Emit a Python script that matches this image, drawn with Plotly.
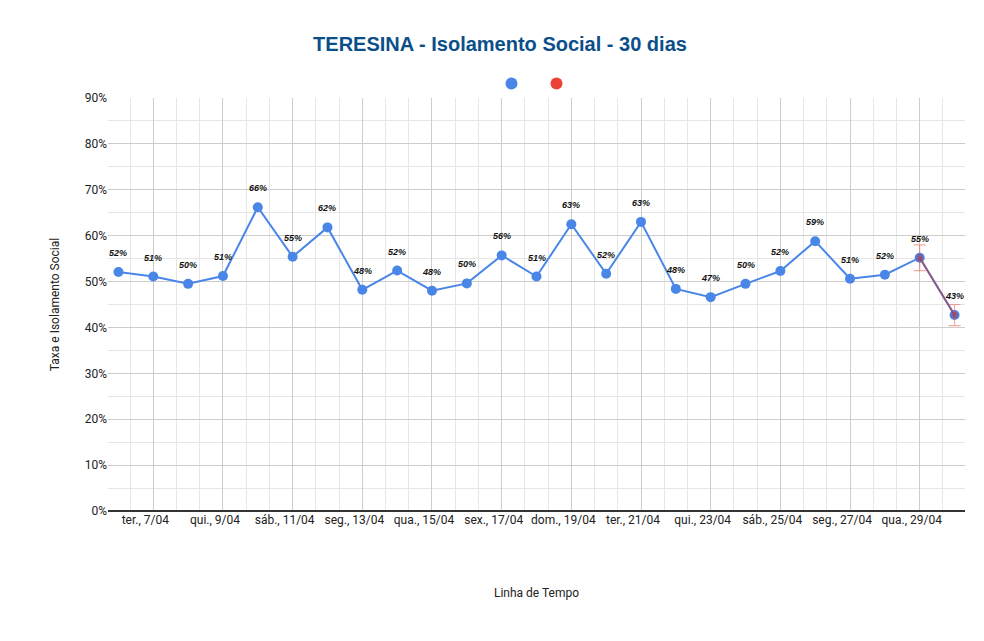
import plotly.graph_objects as go

days = ["seg., 6/04","ter., 7/04","qua., 8/04","qui., 9/04","sex., 10/04","sáb., 11/04","dom., 12/04","seg., 13/04","ter., 14/04","qua., 15/04","qui., 16/04","sex., 17/04","sáb., 18/04","dom., 19/04","seg., 20/04","ter., 21/04","qua., 22/04","qui., 23/04","sex., 24/04","sáb., 25/04","dom., 26/04","seg., 27/04","ter., 28/04","qua., 29/04","qui., 30/04"]
taxa = [52.1,51.1,49.5,51.2,66.2,55.4,61.8,48.2,52.4,48.0,49.6,55.7,51.1,62.5,51.7,63.0,48.4,46.6,49.5,52.3,58.8,50.6,51.5,55.2,42.7]
labels = ["52%","51%","50%","51%","66%","55%","62%","48%","52%","48%","50%","56%","51%","63%","52%","63%","48%","47%","50%","52%","59%","51%","52%","55%","43%"]
proj_idx = [23, 24]
proj_err = [2.8, 2.3]

x = list(range(len(days)))
tickvals = x[1::2]
ticktext = days[1::2]

fig = go.Figure()
fig.add_trace(go.Scatter(x=x, y=taxa, mode="lines+markers",
    line=dict(color="#4a86e8", width=2), marker=dict(size=10, color="#4a86e8"), showlegend=False))
fig.add_trace(go.Scatter(x=proj_idx, y=[taxa[i] for i in proj_idx], mode="lines+markers",
    line=dict(color="rgba(200,40,40,0.5)", width=2), marker=dict(size=7, color="rgba(200,40,40,0.4)"),
    error_y=dict(type="data", array=proj_err, color="rgba(234,67,53,0.45)", thickness=1.2, width=6),
    showlegend=False))
fig.add_trace(go.Scatter(x=[None], y=[None], mode="markers", marker=dict(size=12, color="#4a86e8"), name=""))
fig.add_trace(go.Scatter(x=[None], y=[None], mode="markers", marker=dict(size=12, color="#ea4335"), name=""))

for xi, yi, t in zip(x, taxa, labels):
    fig.add_annotation(x=xi, y=yi, text=t, showarrow=False, yshift=19,
                       font=dict(size=9, color="#111", family="Arial", weight="bold", style="italic"))

fig.update_layout(
    width=984, height=641, paper_bgcolor="white", plot_bgcolor="white",
    margin=dict(l=100, r=27, t=90, b=138, autoexpand=False),
    title=dict(text="<b>TERESINA - Isolamento Social - 30 dias</b>", x=0.5, y=0.955, xanchor="center",
               font=dict(size=20, color="#0b4f8a", family="Arial")),
    font=dict(family="Roboto", size=12, color="#222"),
    legend=dict(orientation="h", x=0.5, xanchor="center", y=1.0, yanchor="bottom", itemwidth=30,
                font=dict(size=1), tracegroupgap=0),
    xaxis=dict(range=[-0.3, 24.3], tickvals=tickvals, ticktext=ticktext, ticklabelshift=-8,
               showgrid=True, gridcolor="#cccccc", gridwidth=1, zeroline=False,
               minor=dict(dtick=2/3, tick0=1, showgrid=True, gridcolor="#e6e6e6"),
               title=dict(text="Linha de Tempo", font=dict(size=12), standoff=62),
               showline=False),
    yaxis=dict(range=[0, 90], dtick=10, ticksuffix="%", showgrid=True, gridcolor="#cccccc",
               minor=dict(dtick=5, showgrid=True, gridcolor="#e6e6e6"),
               zeroline=True, zerolinecolor="#333", zerolinewidth=2,
               title=dict(text="Taxa e Isolamento Social", font=dict(size=12), standoff=22)),
)
fig.write_html("out.html")
